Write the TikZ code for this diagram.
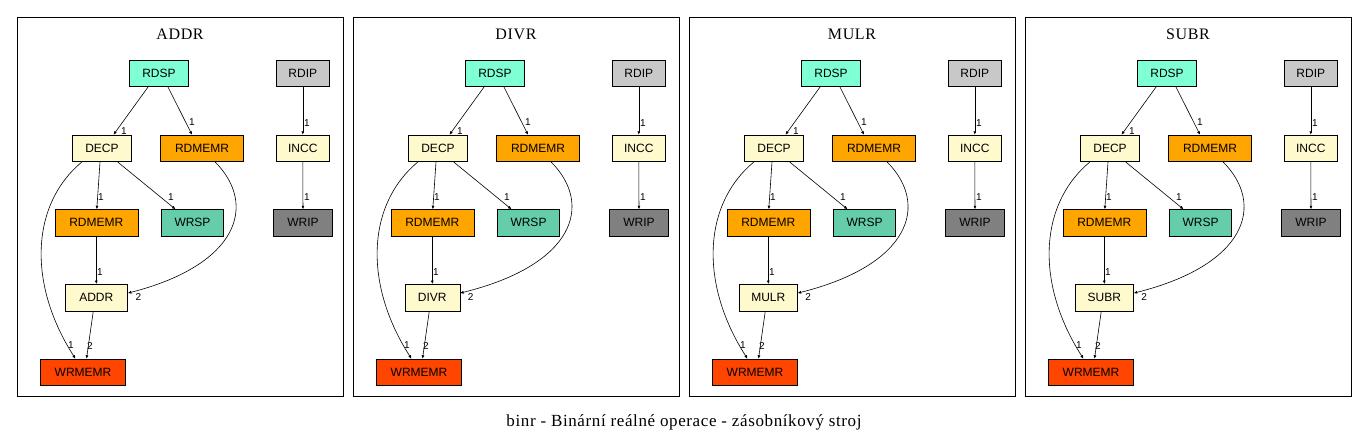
\documentclass[tikz,border=0pt]{standalone}
\usepackage{fontspec}
\setmainfont{Liberation Serif}
\newfontfamily\arialf{Liberation Sans}
\newfontfamily\capf[LetterSpace=3.6]{Liberation Serif}
\newfontfamily\ttlf[LetterSpace=4]{Liberation Serif}
\usetikzlibrary{arrows.meta}
\definecolor{caqua}{HTML}{7FFFD4}
\definecolor{cgrayl}{HTML}{C8C8C8}
\definecolor{clemon}{HTML}{FFFACD}
\definecolor{corange}{HTML}{FFA500}
\definecolor{cmaqua}{HTML}{66CDAA}
\definecolor{cgrayd}{HTML}{808080}
\definecolor{cred}{HTML}{FF4500}
\begin{document}
\begin{tikzpicture}[x=1pt,y=-1pt,
  box/.style={draw,line width=0.6pt,inner sep=0pt,minimum height=26.5pt,font=\arialf\fontsize{12}{14}\selectfont},
  lbl/.style={font=\arialf\fontsize{10}{11}\selectfont,inner sep=0pt},
  edge/.style={-{Latex[length=3.5pt,width=3pt]},line width=0.6pt},
  panel/.style={draw,line width=0.8pt,inner sep=0pt,minimum width=326pt,minimum height=379pt,anchor=north west},
  ttl/.style={font=\ttlf\fontsize{16}{18}\selectfont,inner sep=0pt}]
\useasboundingbox (0,0) rectangle (1368,445);
\foreach \k/\op/\w in {0/ADDR/62.5,1/DIVR/55,2/MULR/58,3/SUBR/58.3}{
  \pgfmathsetmacro\dx{\k*336}
  \begin{scope}[xshift=\dx pt]
    \node[panel] (frame\k) at (17,17) {};
    \node[ttl] (title\k) at (180,34) {\op};
    \node[box,fill=caqua,minimum width=59.5pt] (rdsp\k) at (159,73.5) {RDSP};
    \node[box,fill=cgrayl,minimum width=53pt] (rdip\k) at (302.8,73.5) {RDIP};
    \node[box,fill=clemon,minimum width=59.5pt] (decp\k) at (102,148.3) {DECP};
    \node[box,fill=corange,minimum width=83.5pt] (rdma\k) at (202,148.3) {RDMEMR};
    \node[box,fill=clemon,minimum width=53pt] (incc\k) at (302.8,148.3) {INCC};
    \node[box,fill=corange,minimum width=83pt] (rdmb\k) at (96.3,222.8) {RDMEMR};
    \node[box,fill=cmaqua,minimum width=62.5pt] (wrsp\k) at (192.5,222.8) {WRSP};
    \node[box,fill=cgrayd,minimum width=59.5pt] (wrip\k) at (303,222.8) {WRIP};
    \node[box,fill=clemon,minimum width=\w pt] (op\k) at (96.3,297.6) {\op};
    \node[box,fill=cred,minimum width=85.5pt] (wrm\k) at (83,372.3) {WRMEMR};
    % edges
    \draw[edge] ([xshift=-11pt]rdsp\k.south) -- ([xshift=11.5pt]decp\k.north);
    \draw[edge] ([xshift=9pt]rdsp\k.south) -- ([xshift=-10pt]rdma\k.north);
    \draw[edge] (rdip\k) -- (incc\k);
    \draw[edge] (incc\k) -- (wrip\k);
    \draw[edge] ([xshift=-2pt]decp\k.south) -- ([xshift=0.5pt]rdmb\k.north);
    \draw[edge] ([xshift=15.5pt]decp\k.south) -- ([xshift=-17pt]wrsp\k.north);
    \draw[edge] ([xshift=-20pt]decp\k.south) .. controls (30,205) and (28,285) .. ([xshift=-7.5pt]wrm\k.north);
    \draw[edge] ([xshift=13pt]rdma\k.south) .. controls (258,205) and (238,265) .. ([yshift=4.5pt]op\k.east);
    \draw[edge] (rdmb\k) -- (op\k);
    \draw[edge] ([xshift=-3pt]op\k.south) -- ([xshift=3.5pt]wrm\k.north);
    % labels
    \node[lbl] (l1\k) at (124,131) {1};
    \node[lbl] (l2\k) at (192,122) {1};
    \node[lbl] (l3\k) at (307,123) {1};
    \node[lbl] (l4\k) at (307,197) {1};
    \node[lbl] (l5\k) at (101,197) {1};
    \node[lbl] (l6\k) at (171,197) {1};
    \node[lbl] (l7\k) at (100,272) {1};
    \node[lbl,anchor=center] (l8\k) at ([xshift=10.5pt,yshift=1pt]op\k.east) {2};
    \node[lbl] (l9\k) at (71,345) {1};
    \node[lbl] (l10\k) at (90,346) {2};
  \end{scope}
}
\node[font=\capf\fontsize{17}{19}\selectfont,inner sep=0pt] (cap) at (684,422) {binr - Binární reálné operace - zásobníkový stroj};
\end{tikzpicture}
\end{document}
